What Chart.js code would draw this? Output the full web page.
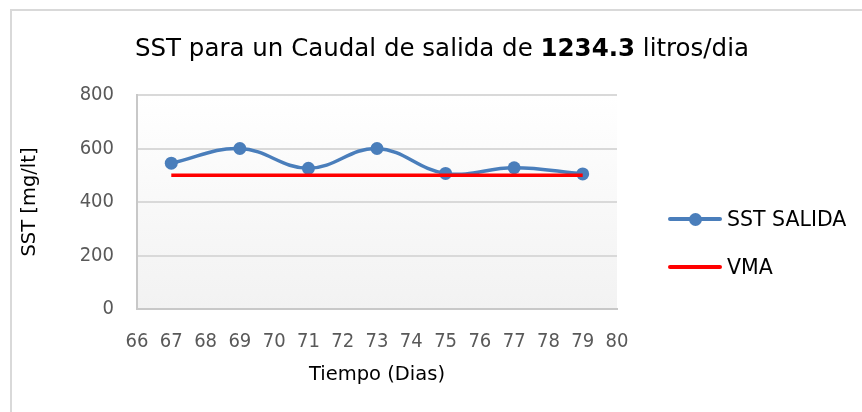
<!DOCTYPE html>
<html lang="es">
<head>
    <meta charset="UTF-8">
    <title>SST salida</title>
    <style>
        body { margin: 0; background: #fff; }
        #wrap { position: relative; width: 862px; height: 412px; overflow: hidden; font-family: "DejaVu Sans", sans-serif; }
        #frame { position: absolute; left: 10px; top: 9px; width: 900px; height: 500px; border-left: 2px solid #d9d9d9; border-top: 2px solid #d9d9d9; }
        #title { position: absolute; left: 442px; top: 33px; transform: translateX(-50%); white-space: nowrap; font-size: 24.5px; color: #000; }
        .item { position: absolute; left: 668px; height: 24px; display: flex; align-items: center; font-size: 20.5px; color: #000; }
        .sym { position: relative; width: 54px; height: 24px; margin-right: 5px; }
        .sym .ln { position: absolute; left: 0; right: 0; top: 10px; height: 4px; border-radius: 2px; }
        .sym .dot { position: absolute; left: 21px; top: 5.5px; width: 13px; height: 13px; border-radius: 50%; }
    </style>
</head>
<body>
<div id="wrap">
    <div id="frame"></div>
    <canvas id="myChart" width="862" height="412"></canvas>
    <div id="title">SST para un Caudal de salida de <b>1234.3</b> litros/dia</div>
    <div id="legend"></div>
</div>

<script src="https://cdn.jsdelivr.net/npm/chart.js"></script>
<script>
// data
const dias = [67, 69, 71, 73, 75, 77, 79];
const sstSalida = [545, 600, 526, 600, 507, 528, 505];
const vma = [500, 500, 500, 500, 500, 500, 500];
const yTicks = [0, 200, 400, 600, 800];

const blue = '#4a7ebb';
const red = '#ff0000';

// plot area background, white to light grey
const plotBg = {
    id: 'plotBg',
    beforeDraw(chart) {
        const {ctx, chartArea: a} = chart;
        const g = ctx.createLinearGradient(0, a.top, 0, a.bottom);
        g.addColorStop(0, '#ffffff');
        g.addColorStop(1, '#f2f2f2');
        ctx.save();
        ctx.fillStyle = g;
        ctx.fillRect(a.left, a.top, a.right - a.left, a.bottom - a.top);
        ctx.restore();
    }
};

const tickFont = { family: 'DejaVu Sans Condensed', size: 20 };
const axisTitleFont = { family: 'DejaVu Sans', size: 19.5 };

const data = {
    datasets: [{
        label: 'SST SALIDA',
        data: dias.map((d, i) => ({x: d, y: sstSalida[i]})),
        borderColor: blue,
        backgroundColor: blue,
        borderWidth: 3.5,
        pointRadius: 6.5,
        pointHoverRadius: 6.5,
        pointBorderWidth: 0,
        tension: 0.4,
        order: 1
    }, {
        label: 'VMA',
        data: dias.map((d, i) => ({x: d, y: vma[i]})),
        borderColor: red,
        backgroundColor: red,
        borderWidth: 3.5,
        pointRadius: 0,
        tension: 0,
        order: 0
    }]
};

const config = {
    type: 'line',
    data,
    plugins: [plotBg],
    options: {
        responsive: false,
        animation: false,
        layout: { padding: { top: 95, right: 245, bottom: 20, left: 10 } },
        plugins: {
            legend: { display: false },
            tooltip: { enabled: false }
        },
        scales: {
            x: {
                type: 'linear',
                min: 66, max: 80,
                afterFit: s => { s.height = 83; },
                ticks: { stepSize: 1, padding: 21, color: '#595959', font: tickFont },
                grid: { color: 'transparent', drawTicks: false },
                border: { color: '#c8c8c8', width: 2 },
                title: { display: true, text: 'Tiempo (Dias)', color: '#000', padding: { top: 0, bottom: 5 }, font: axisTitleFont }
            },
            y: {
                min: 0, max: 800,
                afterFit: s => { s.width = 127; },
                afterBuildTicks: s => { s.ticks = yTicks.map(v => ({value: v})); },
                ticks: { padding: 23, color: '#595959', font: tickFont },
                grid: { color: '#d9d9d9', lineWidth: 2, drawTicks: false },
                border: { color: '#c8c8c8', width: 2 },
                title: { display: true, text: 'SST [mg/lt]', color: '#000', padding: { top: 8, bottom: 0 }, font: axisTitleFont }
            }
        }
    }
};

const myChart = new Chart(document.getElementById('myChart'), config);

// legend: line with marker, built from the datasets
const legendTops = [207, 255];
const legend = document.getElementById('legend');
myChart.data.datasets.forEach((ds, i) => {
    const item = document.createElement('div');
    item.className = 'item';
    item.style.top = legendTops[i] + 'px';
    let sym = '<span class="sym"><span class="ln" style="background:' + ds.borderColor + '"></span>';
    if (ds.pointRadius > 0) sym += '<span class="dot" style="background:' + ds.backgroundColor + '"></span>';
    sym += '</span>';
    item.innerHTML = sym + '<span>' + ds.label + '</span>';
    legend.appendChild(item);
});
</script>
</body>
</html>
